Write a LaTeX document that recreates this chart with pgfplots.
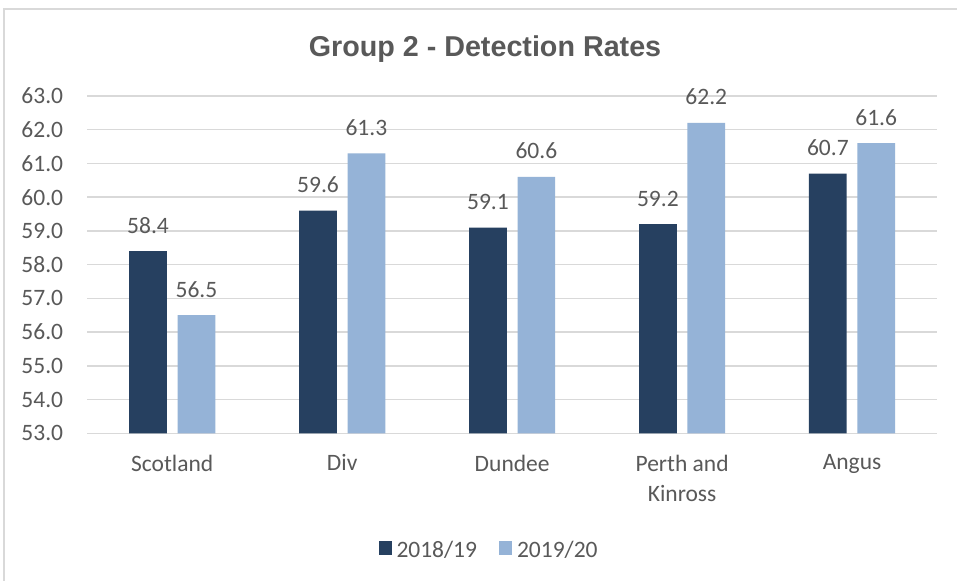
\documentclass[border=0pt]{standalone}
\usepackage{fontspec}
\setmainfont{Carlito}
\newfontfamily\titlefont{Liberation Sans}
\usepackage{pgfplots}
\pgfplotsset{compat=1.18}

\definecolor{darkbar}{HTML}{264060}
\definecolor{lightbar}{HTML}{95B3D7}
\definecolor{gridgray}{HTML}{D9D9D9}
\definecolor{textgray}{HTML}{595959}

\newcommand{\lblfont}{\fontsize{23.5bp}{30bp}\selectfont}

\begin{document}
\begin{tikzpicture}[x=1bp,y=1bp]
\path[use as bounding box, fill=white] (0,0) rectangle (957,581);
\draw[gridgray, line width=1.5bp] (4,-10) -- (4,572) -- (970,572);
\node[anchor=base, text=textgray, font=\titlefont\bfseries\fontsize{28.7bp}{34bp}\selectfont]
  at (485,524.3) {Group 2 - Detection Rates};
\begin{axis}[
  at={(87.3bp,147.7bp)}, anchor=south west,
  scale only axis, width=849.7bp, height=337.3bp,
  xmin=-0.5, xmax=4.5, ymin=53, ymax=63,
  ytick={53,54,...,63},
  xtick={0,1,2,3,4},
  xticklabels={Scotland, Div, Dundee, {Perth and\\Kinross}, Angus},
  axis line style={draw=none}, major tick length=0pt,
  ymajorgrids, grid style={gridgray, line width=1.4bp},
  /pgf/number format/fixed, /pgf/number format/fixed zerofill,
  /pgf/number format/precision=1, /pgf/number format/assume math mode=true,
  ticklabel style={font=\lblfont, text=textgray},
  xticklabel style={align=center, anchor=north, yshift=-18bp},
  yticklabel style={anchor=east, inner sep=0pt, xshift=-24bp},
  ybar=10.7bp, bar width=37.7bp,
  nodes near coords,
  every node near coord/.append style={anchor=base, yshift=18bp, font=\lblfont, text=textgray, inner sep=0pt},
  legend image code/.code={\fill[#1] (0bp,-5bp) rectangle (13.4bp,8.4bp); \path (16bp,0bp);},
  legend style={at={(0.4728,-0.345)}, anchor=center, draw=none, fill=none,
    font=\lblfont, text=textgray, legend columns=2,
    /tikz/every even column/.append style={column sep=20bp}},
]
\addplot[fill=darkbar, draw=none] coordinates {(0,58.4)(1,59.6)(2,59.1)(3,59.2)(4,60.7)};
\addlegendentry{2018/19}
\addplot[fill=lightbar, draw=none] coordinates {(0,56.5)(1,61.3)(2,60.6)(3,62.2)(4,61.6)};
\addlegendentry{2019/20}
\end{axis}
\end{tikzpicture}
\end{document}
